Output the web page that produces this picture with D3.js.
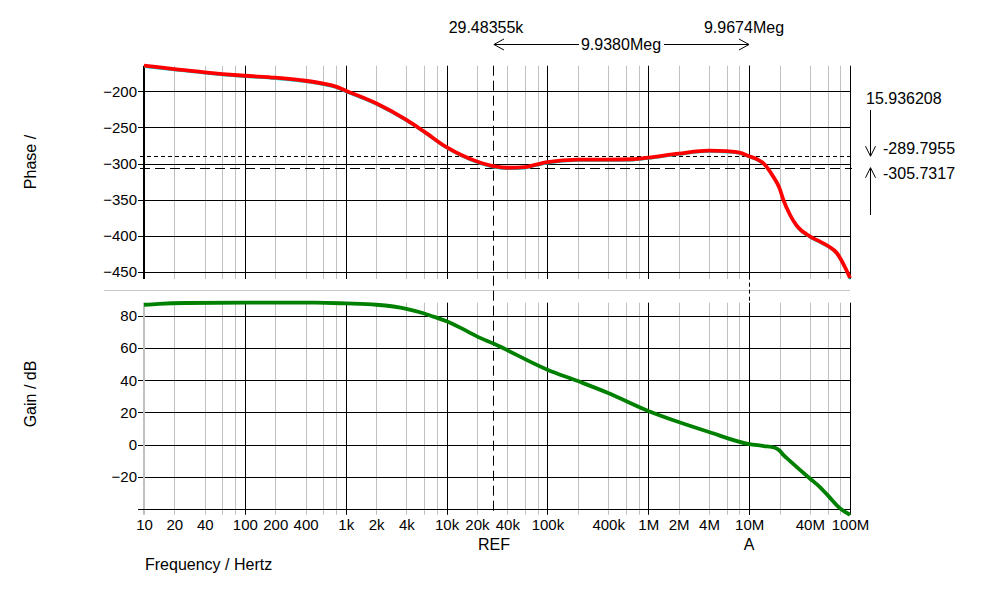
<!DOCTYPE html>
<html><head><meta charset="utf-8">
<script src="https://cdn.jsdelivr.net/npm/d3@7"></script>
<style>
body{margin:0;background:#fff}
svg{display:block}
text{font-family:"Liberation Sans",Arial,sans-serif;fill:#000}
</style>
</head><body>
<svg id="c" width="984" height="609"></svg>
<script>
// ---- data ----
const phaseFreqs = [10,20,40,60,100,200,400,600,800,1e3,2e3,4e3,6e3,1e4,2e4,3e4,4e4,6e4,7.2e4,1e5,2e5,4e5,7e5,1e6,2e6,4e6,6e6,8e6,1e7,1.2e7,1.38e7,1.73e7,2e7,2.18e7,2.54e7,2.96e7,4e7,5e7,6e7,7.4e7,8e7,9e7,1e8];
const phaseDeg   = [-164.6,-169.2,-173.8,-176.1,-178.5,-181.2,-185.4,-189.5,-193.6,-199.2,-216.6,-239.6,-255.8,-277.4,-297.2,-304.0,-305.8,-305.0,-302.5,-298.1,-294.5,-294.5,-294.0,-291.7,-286.2,-282.0,-282.9,-284.8,-289.8,-294.0,-299.4,-317.9,-334.0,-350.0,-370.8,-386.0,-400.8,-407.7,-413.7,-423.7,-431.0,-444.5,-458.3];
const gainFreqs  = [10,14,26,100,500,1e3,2e3,4e3,5.9e3,7.4e3,1e4,1.59e4,2e4,2.95e4,1e5,2e5,4e5,1e6,2e6,4e6,1e7,1.4e7,1.8e7,2e7,2.18e7,2.5e7,4e7,5e7,6e7,8e7,1e8];
const gainDb     = [87.0,87.6,88.1,88.3,88.3,87.8,87.0,84.5,81.7,79.6,76.8,70.6,67.3,62.7,46.6,39.5,32.1,20.9,14.0,7.8,0.3,-0.9,-2.0,-3.7,-6.4,-9.8,-21.1,-26.3,-31.5,-39.8,-43.7];
const phaseTicks = [-200,-250,-300,-350,-400,-450];
const gainTicks  = [80,60,40,20,0,-20];
const freqTickValues = [10,20,40,100,200,400,1e3,2e3,4e3,1e4,2e4,4e4,1e5,4e5,1e6,2e6,4e6,1e7,4e7,1e8];
const freqTickLabels = ["10","20","40","100","200","400","1k","2k","4k","10k","20k","40k","100k","400k","1M","2M","4M","10M","40M","100M"];
const markerFreqs  = [29483.55, 9967400];
const markerNames  = ["REF","A"];
const markerPhases = [-305.7317, -289.7955];
const readouts = {ref:"29.48355k", a:"9.9674Meg", dx:"9.9380Meg", dy:"15.936208", pa:"-289.7955", pr:"-305.7317"};

// ---- scales ----
const svg = d3.select("#c");
const x  = d3.scaleLog().domain([10,1e8]).range([144,850]);
const yP = d3.scaleLinear().domain([-200,-450]).range([91.3,272]);
const yG = d3.scaleLinear().domain([80,-20]).range([316,476.7]);
const pTop = yP(d3.max(phaseDeg)), pBot = yP(d3.min(phaseDeg));
const gTop = yG(d3.max(gainDb)),  gBot = yG(d3.min(gainDb));

// minor / major vertical gridlines
const minor = [], major = [];
for (let k=1;k<=7;k++){ [2,4,6,8].forEach(m=>minor.push(m*Math.pow(10,k))); if(k>1) major.push(Math.pow(10,k)); }

function vgrid(vals, y1, y2, color){
  svg.append("g").selectAll("line").data(vals).join("line")
    .attr("x1",d=>Math.round(x(d))+0.5).attr("x2",d=>Math.round(x(d))+0.5)
    .attr("y1",y1).attr("y2",y2).attr("stroke",color).attr("stroke-width",1);
}
// phase panel grid
vgrid(minor, pTop, pBot+1, "#c0c0c0");
vgrid(major, pTop, pBot+1, "#000");
// gain panel grid
vgrid(minor, gTop, gBot, "#c0c0c0");
vgrid(major, gTop, gBot, "#000");

// separator
svg.append("line").attr("x1",104).attr("x2",850).attr("y1",290.5).attr("y2",290.5).attr("stroke","#c8c8c8");

// y axes (gridlines via ticks)
const axP = d3.axisLeft(yP).tickValues(phaseTicks).tickSize(-712).tickPadding(1).tickFormat(d3.format("d"));
const gP = svg.append("g").attr("transform","translate(138,0)").call(axP);
const axG = d3.axisLeft(yG).tickValues(gainTicks).tickSize(-712).tickPadding(1).tickFormat(d3.format("d"));
const gG = svg.append("g").attr("transform","translate(138,0)").call(axG);
[gP,gG].forEach(g=>{
  g.select(".domain").remove();
  g.selectAll(".tick line").attr("stroke","#000").attr("shape-rendering","crispEdges");
  g.selectAll(".tick text").attr("font-size",15).attr("font-family","Liberation Sans, Arial, sans-serif").attr("fill","#000");
});
// left / right frame lines
svg.append("line").attr("x1",144).attr("x2",144).attr("y1",pTop).attr("y2",pBot+1).attr("stroke","#000").attr("stroke-width",2);
svg.append("line").attr("x1",144).attr("x2",144).attr("y1",gTop).attr("y2",gBot).attr("stroke","#c0c0c0").attr("stroke-width",2);
svg.append("line").attr("x1",850.5).attr("x2",850.5).attr("y1",pTop).attr("y2",pBot+1).attr("stroke","#000");
svg.append("line").attr("x1",850.5).attr("x2",850.5).attr("y1",gTop).attr("y2",gBot).attr("stroke","#000");
// gain bottom axis line at -40
svg.append("line").attr("x1",138).attr("x2",851).attr("y1",Math.round(yG(-40))+0.5).attr("y2",Math.round(yG(-40))+0.5).attr("stroke","#000");

// x axis labels
const axX = d3.axisBottom(x).tickValues(freqTickValues).tickSize(0).tickPadding(10)
  .tickFormat((d,i)=>freqTickLabels[i]);
const gX = svg.append("g").attr("transform","translate(0,509)").call(axX);
gX.select(".domain").remove();
gX.selectAll(".tick text").attr("font-size",15).attr("font-family","Liberation Sans, Arial, sans-serif").attr("fill","#000");

// marker lines
const xr = x(markerFreqs[0]), xa = x(markerFreqs[1]);
svg.append("line").attr("x1",Math.round(xr)-0.5).attr("x2",Math.round(xr)-0.5).attr("y1",pTop).attr("y2",515)
  .attr("stroke","#000").attr("stroke-dasharray","10,5");
svg.append("line").attr("x1",Math.round(xa)+0.5).attr("x2",Math.round(xa)+0.5).attr("y1",pTop).attr("y2",515)
  .attr("stroke","#000").attr("stroke-dasharray","4,3");
svg.append("line").attr("x1",140).attr("x2",852).attr("y1",Math.round(yP(markerPhases[0]))+0.5).attr("y2",Math.round(yP(markerPhases[0]))+0.5)
  .attr("stroke","#000").attr("stroke-dasharray","10,5");
svg.append("line").attr("x1",140).attr("x2",852).attr("y1",Math.round(yP(markerPhases[1]))+0.5).attr("y2",Math.round(yP(markerPhases[1]))+0.5)
  .attr("stroke","#000").attr("stroke-dasharray","4,3");

// curves
const lineP = d3.line().x((d,i)=>x(phaseFreqs[i])).y(d=>yP(d)).curve(d3.curveMonotoneX);
const lineG = d3.line().x((d,i)=>x(gainFreqs[i])).y(d=>yG(d)).curve(d3.curveMonotoneX);
svg.append("path").attr("d",lineP(phaseDeg)).attr("fill","none").attr("stroke","#00e0e0").attr("stroke-width",1.2).attr("transform","translate(0,1.6)");
svg.append("path").attr("d",lineP(phaseDeg)).attr("fill","none").attr("stroke","#ff0000").attr("stroke-width",3.8);
svg.append("path").attr("d",lineG(gainDb)).attr("fill","none").attr("stroke","#008000").attr("stroke-width",3.8);

// axis titles
svg.append("text").attr("transform","translate(36,162) rotate(-90)").attr("text-anchor","middle").attr("font-size",16).text("Phase /");
svg.append("text").attr("transform","translate(36,394) rotate(-90)").attr("text-anchor","middle").attr("font-size",16).text("Gain / dB");
svg.append("text").attr("x",145).attr("y",570).attr("font-size",16).text("Frequency / Hertz");
svg.selectAll(".mname").data(markerNames).join("text").attr("class","mname")
  .attr("x",(d,i)=>x(markerFreqs[i])).attr("y",550).attr("text-anchor","middle").attr("font-size",16).text(d=>d);

// top readouts
svg.append("text").attr("x",486).attr("y",33).attr("text-anchor","middle").attr("font-size",16).text(readouts.ref);
svg.append("text").attr("x",744).attr("y",33).attr("text-anchor","middle").attr("font-size",16).text(readouts.a);
svg.append("text").attr("x",621).attr("y",50).attr("text-anchor","middle").attr("font-size",16).text(readouts.dx);
const ay = 44.5;
const arr = svg.append("g").attr("stroke","#000").attr("fill","none");
arr.append("line").attr("x1",xr).attr("x2",579).attr("y1",ay).attr("y2",ay);
arr.append("line").attr("x1",664).attr("x2",xa).attr("y1",ay).attr("y2",ay);
arr.append("path").attr("d",`M${xr+10},${ay-5.5}L${xr},${ay}L${xr+10},${ay+5.5}`);
arr.append("path").attr("d",`M${xa-10},${ay-5.5}L${xa},${ay}L${xa-10},${ay+5.5}`);

// right readouts
const ra = yP(markerPhases[1]), rr = yP(markerPhases[0]);
svg.append("text").attr("x",866).attr("y",104).attr("font-size",16).text(readouts.dy);
svg.append("text").attr("x",883).attr("y",154).attr("font-size",16).text(readouts.pa);
svg.append("text").attr("x",883).attr("y",179).attr("font-size",16).text(readouts.pr);
const ar2 = svg.append("g").attr("stroke","#000").attr("fill","none");
ar2.append("line").attr("x1",870.5).attr("x2",870.5).attr("y1",110).attr("y2",ra);
ar2.append("path").attr("d",`M865.5,${ra-10}L870.5,${ra}L875.5,${ra-10}`);
ar2.append("line").attr("x1",870.5).attr("x2",870.5).attr("y1",rr).attr("y2",215);
ar2.append("path").attr("d",`M865.5,${rr+10}L870.5,${rr}L875.5,${rr+10}`);
</script>
</body></html>
